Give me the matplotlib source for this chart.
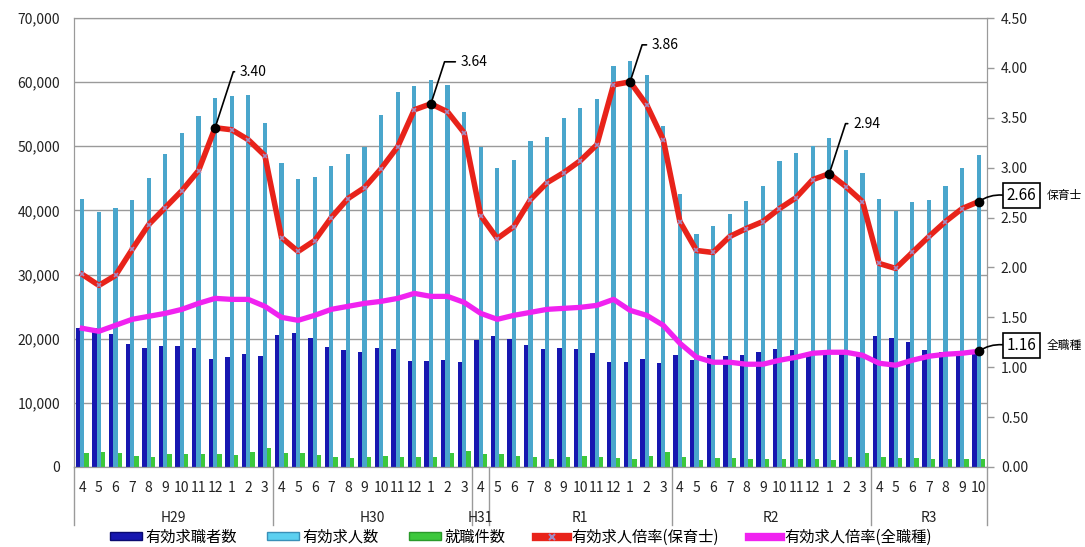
import numpy as np
import matplotlib
matplotlib.use('Agg')
import matplotlib.pyplot as plt
from matplotlib.lines import Line2D
from matplotlib.patches import Patch
import matplotlib.transforms as mtransforms

plt.rcParams['font.family'] = ['Noto Sans CJK JP', 'DejaVu Sans']

# month labels (H29/4 .. R3/10)
months = ['4', '5', '6', '7', '8', '9', '10', '11', '12', '1', '2', '3',
          '4', '5', '6', '7', '8', '9', '10', '11', '12', '1', '2', '3',
          '4',
          '5', '6', '7', '8', '9', '10', '11', '12', '1', '2', '3',
          '4', '5', '6', '7', '8', '9', '10', '11', '12', '1', '2', '3',
          '4', '5', '6', '7', '8', '9', '10']
eras = ['H29', 'H30', 'H31', 'R1', 'R2', 'R3']
era_counts = [12, 12, 1, 11, 12, 7]

# 有効求職者数
seekers = [21740, 21700, 20760, 19180, 18590, 18800, 18860, 18480, 16900, 17170, 17550, 17280,
           20540, 20920, 20110, 18700, 18180, 17930, 18480, 18320, 16520, 16580, 16740, 16410,
           19840,
           20490, 20000, 18970, 18320, 18530, 18370, 17830, 16300, 16410, 16850, 16140,
           17390, 16680, 17500, 17280, 17500, 17990, 18400, 18250, 17800, 17900, 18000, 17700,
           20490, 20070, 19550, 18250, 17890, 17800, 17800]
# 有効求人数
offers = [41850, 39780, 40330, 41690, 45000, 48800, 52000, 54780, 57500, 57880, 58040, 53700,
          47390, 44840, 45270, 46850, 48750, 49890, 54890, 58420, 59350, 60330, 59620, 55330,
          49950,
          46580, 47830, 50820, 51520, 54350, 55980, 57340, 62500, 63320, 61140, 53100,
          42520, 36350, 37500, 39500, 41470, 43860, 47660, 48910, 50110, 51300, 49460, 45760,
          41790, 39840, 41300, 41680, 43750, 46580, 48640]
# 就職件数
placements = [2170, 2390, 2170, 1740, 1520, 1960, 1960, 1960, 2010, 1850, 2280, 2990,
              2170, 2230, 1900, 1630, 1470, 1520, 1740, 1630, 1580, 1520, 2120, 2550,
              2070,
              2010, 1790, 1580, 1250, 1520, 1740, 1520, 1410, 1200, 1740, 2390,
              1520, 1090, 1470, 1360, 1200, 1250, 1300, 1200, 1250, 1090, 1520, 2170,
              1580, 1410, 1470, 1200, 1200, 1250, 1200]
# 有効求人倍率（保育士）
ratio_hoiku = [1.93, 1.82, 1.92, 2.18, 2.43, 2.60, 2.77, 2.97, 3.40, 3.38, 3.28, 3.12,
               2.30, 2.16, 2.27, 2.50, 2.69, 2.80, 2.99, 3.21, 3.58, 3.64, 3.56, 3.35,
               2.52,
               2.29, 2.41, 2.68, 2.85, 2.95, 3.07, 3.23, 3.83, 3.86, 3.63, 3.28,
               2.46, 2.17, 2.15, 2.31, 2.39, 2.46, 2.59, 2.70, 2.88, 2.94, 2.81, 2.66,
               2.04, 1.99, 2.15, 2.31, 2.46, 2.59, 2.66]
# 有効求人倍率（全職種）
ratio_all = [1.39, 1.36, 1.42, 1.48, 1.51, 1.54, 1.58, 1.64, 1.69, 1.68, 1.68, 1.61,
             1.50, 1.47, 1.52, 1.58, 1.61, 1.64, 1.66, 1.69, 1.74, 1.71, 1.71, 1.65,
             1.54,
             1.48, 1.52, 1.55, 1.58, 1.59, 1.60, 1.62, 1.68, 1.57, 1.52, 1.42,
             1.24, 1.10, 1.05, 1.05, 1.03, 1.03, 1.07, 1.10, 1.14, 1.15, 1.15, 1.12,
             1.04, 1.02, 1.07, 1.11, 1.13, 1.14, 1.16]

peaks = [8, 21, 33, 45]
peak_offsets = [(25, 56), (30, 42), (22, 37), (24, 50)]

c_dark = '#1717b0'
c_light = '#4aa6cc'
c_green = '#3cc83c'
c_red = '#e8231a'
c_mag = '#f022f0'
c_grid = '#9a9a9a'

W, H = 1085, 547
fig = plt.figure(figsize=(W / 100, H / 100), dpi=100)
ax = fig.add_axes([74 / W, 1 - 467 / H, (987 - 74) / W, (467 - 18) / H])

x = np.arange(len(months))
ax.bar(x - 0.26, seekers, 0.27, color=c_dark, zorder=2)
ax.bar(x, offers, 0.25, color=c_light, zorder=2)
ax.bar(x + 0.26, placements, 0.26, color=c_green, zorder=2)

ax.set_xlim(-0.5, len(months) - 0.5)
ax.set_ylim(0, 70000)
ax.set_yticks(range(0, 70001, 10000))
ax.set_yticklabels([f'{v:,}' for v in range(0, 70001, 10000)])
ax.yaxis.grid(True, color=c_grid, lw=1)
ax.set_axisbelow(True)
ax.set_xticks(x)
ax.set_xticklabels(months)
ax.tick_params(axis='x', length=0, pad=10, labelsize=10, colors='#222222')
ax.tick_params(axis='y', length=0, pad=10, labelsize=10, colors='#222222')
for s in ax.spines.values():
    s.set_color(c_grid)

ax2 = ax.twinx()
ax2.plot(x, ratio_hoiku, color=c_red, lw=4.0, solid_joinstyle='round',
         marker='x', ms=3.5, mec='#a08cc4', mew=1.2, zorder=3)
ax2.plot(x, ratio_all, color=c_mag, lw=3.8, solid_joinstyle='round', zorder=3)
ax2.set_ylim(0, 4.5)
ax2.set_yticks(np.arange(0, 4.51, 0.5))
ax2.set_yticklabels([f'{v:.2f}' for v in np.arange(0, 4.51, 0.5)])
ax2.tick_params(axis='y', length=5, width=1, pad=5, labelsize=10, colors='#222222')
ax2.tick_params(axis='y', color=c_grid)
for s in ax2.spines.values():
    s.set_color(c_grid)

# peak labels
for i, off in zip(peaks, peak_offsets):
    ax2.plot(i, ratio_hoiku[i], 'o', color='black', ms=6, zorder=5)
    ax2.annotate(f'{ratio_hoiku[i]:.2f}', xy=(i, ratio_hoiku[i]), xytext=off,
                 textcoords='offset pixels', ha='left', va='center', fontsize=10,
                 arrowprops=dict(arrowstyle='-', color='black', lw=1.2,
                                 connectionstyle='angle,angleA=0,angleB=72,rad=0',
                                 relpos=(0, 0.5), shrinkA=2, shrinkB=0), zorder=5)

# end labels
last = len(months) - 1
for vals, name in [(ratio_hoiku, '保育士'), (ratio_all, '全職種')]:
    v = vals[last]
    ax2.plot(last, v, 'o', color='black', ms=6, zorder=5, clip_on=False)
    ax2.annotate(f'{v:.2f}', xy=(last, v), xytext=(28, 6), textcoords='offset pixels',
                 ha='left', va='center', fontsize=11,
                 bbox=dict(boxstyle='square,pad=0.25', fc='white', ec='black', lw=1.2),
                 arrowprops=dict(arrowstyle='-', color='black', lw=1.2,
                                 connectionstyle='arc3,rad=0.2', relpos=(0, 0.5),
                                 shrinkA=0, shrinkB=0),
                 annotation_clip=False, zorder=5)
    ax2.annotate(name, xy=(last, v), xytext=(68, 6), textcoords='offset pixels',
                 ha='left', va='center', fontsize=8.5, annotation_clip=False)

# era labels and separators under the axis
trans = mtransforms.blended_transform_factory(ax.transData, ax.transAxes)
start = 0
edges = [-0.5]
for era, n in zip(eras, era_counts):
    ax.text(start + (n - 1) / 2, -0.114, era, transform=trans, ha='center', va='center',
            fontsize=10, color='#222222')
    start += n
    edges.append(start - 0.5)
for e in edges:
    ax.add_line(Line2D([e, e], [0, -0.13], transform=trans, color=c_grid, lw=1, clip_on=False))

handles = [Patch(facecolor=c_dark, edgecolor='#0a0a70'),
           Patch(facecolor='#5cd0f0', edgecolor='#3a90b8'),
           Patch(facecolor=c_green, edgecolor='#2a9a2a'),
           Line2D([], [], color=c_red, lw=6, marker='x', ms=4, mec='#a08cc4', mew=1.5),
           Line2D([], [], color=c_mag, lw=6)]
labels = ['有効求職者数', '有効求人数', '就職件数', '有効求人倍率(保育士)', '有効求人倍率(全職種)']
fig.legend(handles, labels, loc='center', bbox_to_anchor=(0.480, 1 - 537 / H), ncol=5,
           frameon=False, fontsize=11, handlelength=2.1, handleheight=0.45,
           handletextpad=0.2, columnspacing=2.0, borderpad=0)

fig.savefig('out.png', dpi=100)
